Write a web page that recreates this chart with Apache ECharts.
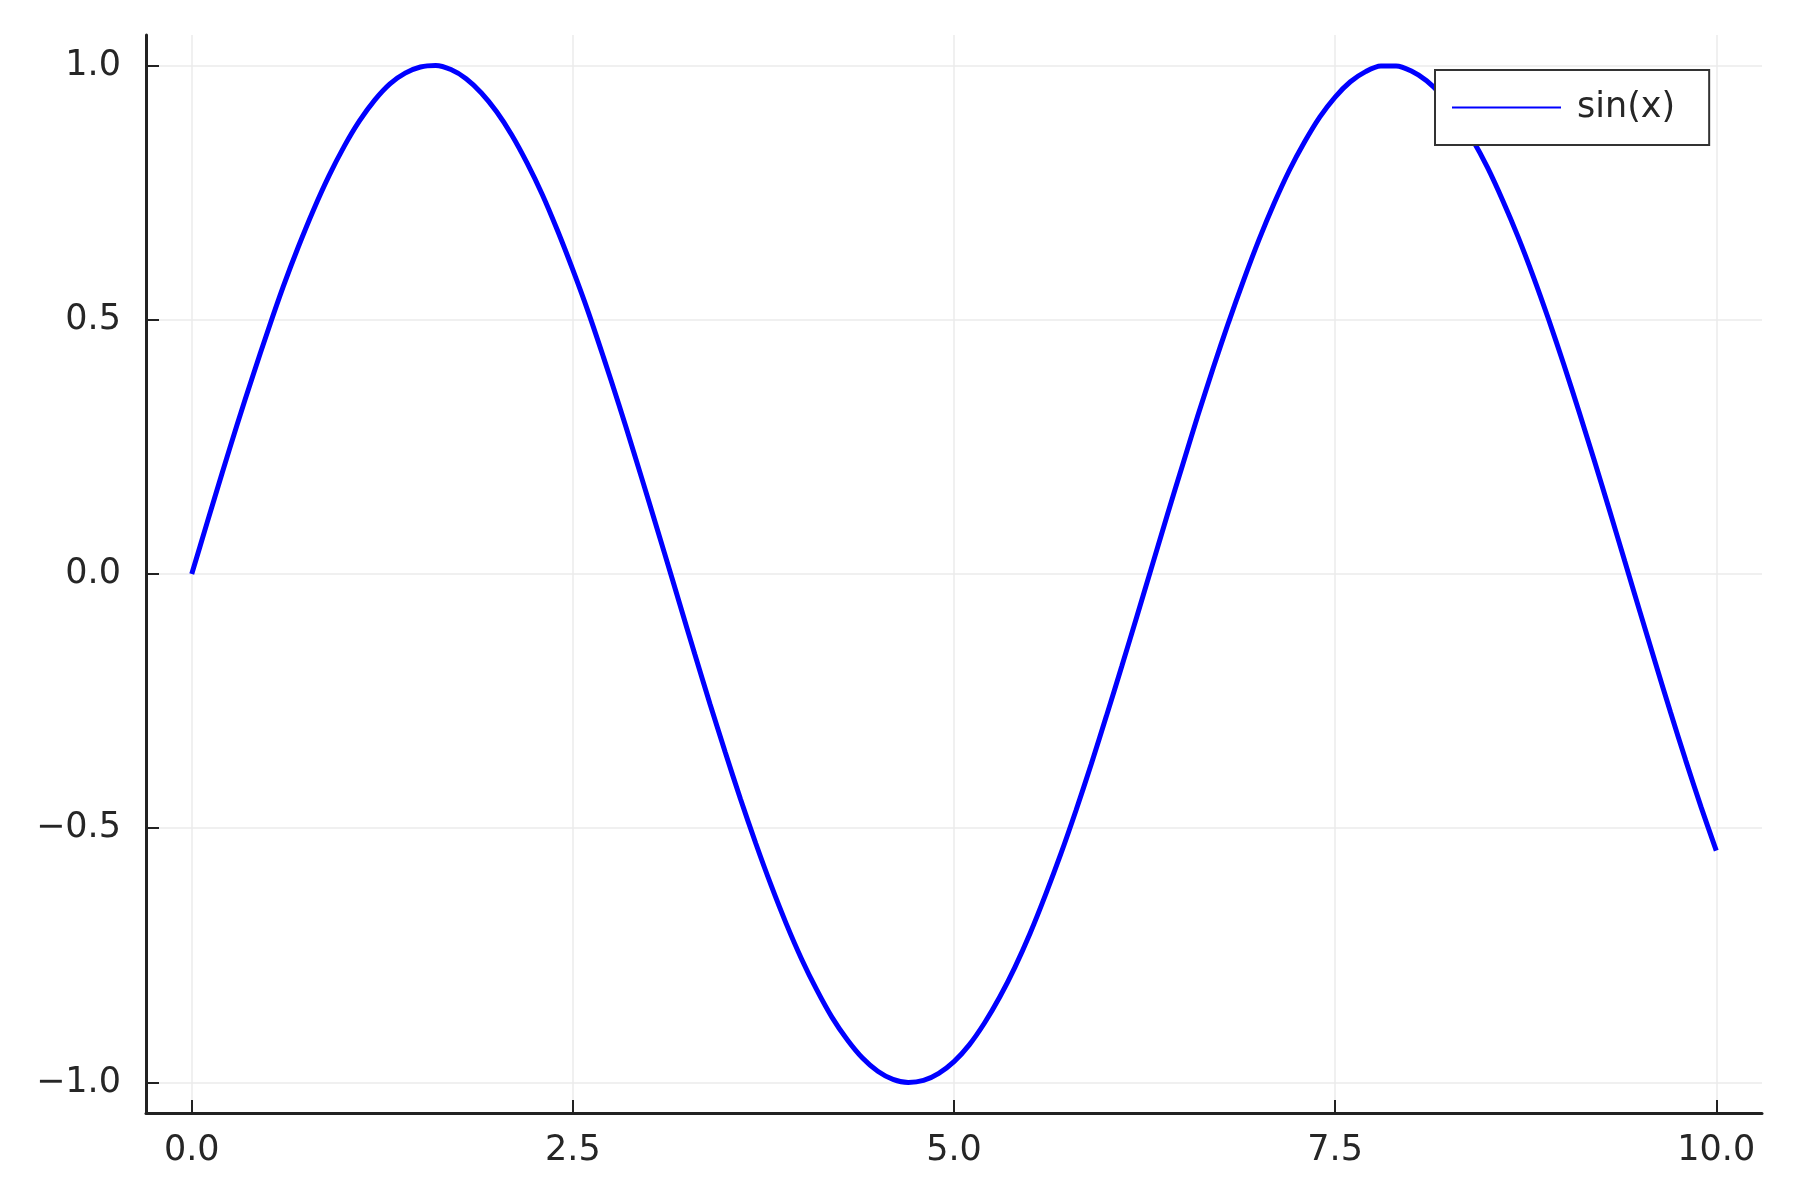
<!DOCTYPE html>
<html>
<head>
<meta charset="utf-8">
<script src="https://cdn.jsdelivr.net/npm/echarts@6/dist/echarts.min.js"></script>
<style>
  html, body { margin: 0; padding: 0; background: #fff; }
  #chart { width: 1800px; height: 1200px; }
</style>
</head>
<body>
<div id="chart"></div>
<script>
const seriesName = 'sin(x)';
const xs = [0.0,0.1,0.2,0.3,0.4,0.5,0.6,0.7,0.8,0.9,
  1.0,1.1,1.2,1.3,1.4,1.5,1.6,1.7,1.8,1.9,
  2.0,2.1,2.2,2.3,2.4,2.5,2.6,2.7,2.8,2.9,
  3.0,3.1,3.2,3.3,3.4,3.5,3.6,3.7,3.8,3.9,
  4.0,4.1,4.2,4.3,4.4,4.5,4.6,4.7,4.8,4.9,
  5.0,5.1,5.2,5.3,5.4,5.5,5.6,5.7,5.8,5.9,
  6.0,6.1,6.2,6.3,6.4,6.5,6.6,6.7,6.8,6.9,
  7.0,7.1,7.2,7.3,7.4,7.5,7.6,7.7,7.8,7.9,
  8.0,8.1,8.2,8.3,8.4,8.5,8.6,8.7,8.8,8.9,
  9.0,9.1,9.2,9.3,9.4,9.5,9.6,9.7,9.8,9.9,10.0];
const ys = [0.000,0.100,0.199,0.296,0.389,0.479,0.565,0.644,0.717,0.783,
  0.841,0.891,0.932,0.964,0.985,0.997,1.000,0.992,0.974,0.946,
  0.909,0.863,0.808,0.746,0.675,0.598,0.516,0.427,0.335,0.239,
  0.141,0.042,-0.058,-0.158,-0.256,-0.351,-0.443,-0.530,-0.612,-0.688,
  -0.757,-0.818,-0.872,-0.916,-0.952,-0.978,-0.994,-1.000,-0.996,-0.982,
  -0.959,-0.926,-0.883,-0.832,-0.773,-0.706,-0.631,-0.551,-0.465,-0.374,
  -0.279,-0.182,-0.083,0.017,0.117,0.215,0.312,0.405,0.494,0.578,
  0.657,0.729,0.794,0.850,0.899,0.938,0.968,0.988,0.999,0.999,
  0.989,0.970,0.941,0.902,0.855,0.799,0.734,0.663,0.585,0.501,
  0.412,0.319,0.223,0.125,0.025,-0.075,-0.174,-0.272,-0.367,-0.458,-0.544];
const xTicks = [0, 2.5, 5, 7.5, 10];
const yTicks = [-1, -0.5, 0, 0.5, 1];

const fontFamily = '"DejaVu Sans", sans-serif';
const fmt = v => (v < 0 ? '\u2212' : '') + Math.abs(v).toFixed(1);

const chart = echarts.init(document.getElementById('chart'), null, { renderer: 'canvas' });
chart.setOption({
  backgroundColor: '#ffffff',
  animation: false,
  grid: { left: 146, top: 35, right: 38, bottom: 87, containLabel: false },
  legend: {
    data: [seriesName],
    left: 1435, top: 70,
    orient: 'vertical',
    icon: 'rect',
    itemWidth: 109, itemHeight: 2,
    padding: [20, 34, 20, 17],
    borderColor: '#333333', borderWidth: 2, borderRadius: 0,
    backgroundColor: '#ffffff',
    textStyle: { fontFamily, fontSize: 35, color: '#262626', padding: [0, 0, 0, 11] }
  },
  xAxis: {
    type: 'value', min: -0.3, max: 10.3,
    axisLine: { show: true, onZero: false, lineStyle: { color: '#222', width: 3 } },
    axisTick: { show: true, inside: true, length: 13, customValues: xTicks, lineStyle: { color: '#222', width: 2 } },
    axisLabel: { customValues: xTicks, formatter: fmt, fontFamily, fontSize: 35, color: '#262626', margin: 20 },
    splitLine: { show: true, lineStyle: { color: '#ebebeb', width: 1.5 } }
  },
  yAxis: {
    type: 'value', min: -1.06, max: 1.06,
    axisLine: { show: true, onZero: false, lineStyle: { color: '#222', width: 3 } },
    axisTick: { show: true, inside: true, length: 13, customValues: yTicks, lineStyle: { color: '#222', width: 2 } },
    axisLabel: { customValues: yTicks, formatter: fmt, fontFamily, fontSize: 35, color: '#262626', margin: 25 },
    splitLine: { show: true, lineStyle: { color: '#ebebeb', width: 1.5 } }
  },
  series: [{
    name: seriesName,
    type: 'line',
    data: xs.map((x, i) => [x, ys[i]]),
    showSymbol: false, symbol: 'none',
    smooth: 0.3,
    lineStyle: { color: '#0000ff', width: 5 },
    itemStyle: { color: '#0000ff' },
    z: 2
  }]
});
</script>
</body>
</html>
